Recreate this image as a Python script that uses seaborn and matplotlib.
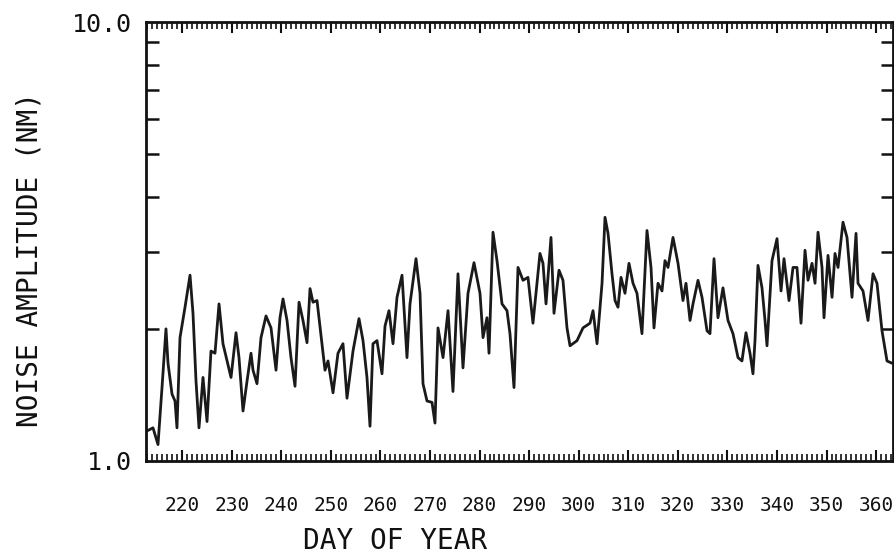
import matplotlib
matplotlib.use("Agg")
import matplotlib.pyplot as plt
from matplotlib.ticker import FixedLocator, MultipleLocator, NullFormatter, FixedFormatter
import seaborn as sns
import pandas as pd

days = [212.84, 214.11, 215.12, 215.93, 216.73, 217.14, 217.95, 218.55, 218.95, 219.56,
        220.57, 221.58, 222.18, 222.79, 223.39, 224.20, 225.01, 225.81, 226.62, 227.43,
        228.23, 229.85, 230.86, 231.46, 232.27, 233.08, 233.88, 234.29, 235.09, 235.90,
        236.91, 237.92, 238.93, 239.73, 240.34, 241.15, 241.95, 242.76, 243.57, 244.37,
        245.18, 245.79, 246.39, 247.20, 248.21, 248.81, 249.42, 250.43, 251.43, 252.44,
        253.25, 254.46, 255.67, 256.48, 257.28, 257.89, 258.49, 259.30, 260.31, 260.92,
        261.72, 262.53, 263.34, 264.35, 265.35, 265.96, 267.17, 267.98, 268.58, 269.39,
        270.40, 271.00, 271.61, 272.62, 273.63, 274.63, 275.64, 276.65, 277.66, 278.87,
        280.08, 280.69, 281.49, 281.90, 282.70, 283.51, 284.52, 285.53, 286.13, 286.94,
        287.75, 288.76, 289.76, 290.77, 292.18, 292.79, 293.40, 294.40, 295.01, 296.02,
        296.82, 297.63, 298.24, 299.65, 300.86, 302.27, 302.88, 303.69, 304.70, 305.30,
        305.91, 306.71, 307.32, 307.92, 308.53, 309.33, 310.14, 310.95, 311.75, 312.76,
        313.77, 314.58, 315.18, 315.99, 316.80, 317.40, 318.01, 319.02, 320.03, 321.03,
        321.64, 322.45, 323.05, 324.06, 324.87, 325.88, 326.48, 327.29, 328.09, 329.10,
        330.11, 331.12, 332.13, 332.93, 333.74, 334.55, 335.15, 335.56, 336.16, 336.97,
        337.58, 337.98, 338.99, 340.00, 340.81, 341.41, 342.42, 343.23, 344.03, 344.84,
        345.65, 346.25, 347.06, 347.67, 348.27, 349.08, 349.48, 350.29, 351.10, 351.70,
        352.31, 353.31, 354.12, 355.13, 355.94, 356.34, 357.35, 358.36, 359.37, 360.17,
        361.18, 362.19, 363.20]

amplitude = [1.17, 1.19, 1.09, 1.47, 2.00, 1.67, 1.42, 1.37, 1.19, 1.91,
             2.24, 2.65, 2.17, 1.52, 1.19, 1.55, 1.23, 1.78, 1.76, 2.28,
             1.85, 1.55, 1.96, 1.72, 1.30, 1.52, 1.76, 1.61, 1.50, 1.91,
             2.14, 2.01, 1.61, 2.12, 2.34, 2.09, 1.72, 1.48, 2.30, 2.09,
             1.86, 2.47, 2.30, 2.32, 1.85, 1.61, 1.69, 1.43, 1.76, 1.85,
             1.39, 1.78, 2.11, 1.88, 1.55, 1.20, 1.85, 1.88, 1.58, 2.03,
             2.20, 1.85, 2.36, 2.65, 1.72, 2.28, 2.89, 2.41, 1.50, 1.37,
             1.36, 1.22, 2.01, 1.72, 2.20, 1.44, 2.67, 1.63, 2.41, 2.83,
             2.41, 1.91, 2.12, 1.76, 3.32, 2.86, 2.28, 2.20, 1.95, 1.47,
             2.76, 2.58, 2.62, 2.06, 2.97, 2.82, 2.28, 3.23, 2.17, 2.72,
             2.58, 2.01, 1.83, 1.88, 2.01, 2.06, 2.20, 1.85, 2.54, 3.59,
             3.30, 2.67, 2.32, 2.24, 2.62, 2.41, 2.82, 2.54, 2.41, 1.95,
             3.35, 2.76, 2.01, 2.54, 2.44, 2.86, 2.76, 3.23, 2.82, 2.32,
             2.54, 2.09, 2.28, 2.58, 2.36, 1.98, 1.95, 2.89, 2.12, 2.48,
             2.09, 1.95, 1.72, 1.69, 1.96, 1.76, 1.58, 1.88, 2.79, 2.48,
             2.09, 1.83, 2.86, 3.21, 2.44, 2.89, 2.32, 2.76, 2.76, 2.06,
             3.02, 2.58, 2.82, 2.54, 3.32, 2.76, 2.12, 2.94, 2.36, 2.97,
             2.76, 3.50, 3.23, 2.36, 3.30, 2.54, 2.44, 2.09, 2.67, 2.54,
             1.98, 1.69, 1.67]

x_ticks = [220, 230, 240, 250, 260, 270, 280, 290, 300, 310, 320, 330, 340, 350, 360]
x_tick_labels = [str(t) for t in x_ticks]
y_ticks = [1.0, 10.0]
y_tick_labels = ["1.0", "10.0"]
y_minor = [2, 3, 4, 5, 6, 7, 8, 9]

sns.set_style("ticks")
plt.rcParams["font.family"] = ["DejaVu Sans Mono", "DejaVu Sans"]

df = pd.DataFrame({"day": days, "amp": amplitude})

fig = plt.figure(figsize=(8.95, 5.6), dpi=100)
ax = fig.add_axes([146 / 895, 1 - 461 / 560, (893 - 146) / 895, (461 - 22) / 560])

sns.lineplot(data=df, x="day", y="amp", ax=ax, color="#1a1a1a", linewidth=2.0)

ax.set_yscale("log")
ax.set_ylim(1.0, 10.0)
ax.set_xlim(212.7, 363.4)

ink = "#111111"
for s in ax.spines.values():
    s.set_color(ink)
    s.set_linewidth(2.0)

ax.xaxis.set_major_locator(FixedLocator(x_ticks))
ax.xaxis.set_major_formatter(FixedFormatter(x_tick_labels))
ax.xaxis.set_minor_locator(MultipleLocator(1))
ax.yaxis.set_major_locator(FixedLocator(y_ticks))
ax.yaxis.set_major_formatter(FixedFormatter(y_tick_labels))
ax.yaxis.set_minor_locator(FixedLocator(y_minor))
ax.yaxis.set_minor_formatter(NullFormatter())

ax.tick_params(axis="x", which="major", direction="in", length=8, width=1.5,
               top=True, bottom=True, color=ink, labelsize=14, pad=25, labelcolor=ink)
ax.tick_params(axis="x", which="minor", direction="in", length=5, width=1.2,
               top=True, bottom=True, color=ink)
ax.tick_params(axis="y", which="major", direction="in", length=0, width=1.5,
               left=True, right=True, color=ink, labelsize=18, pad=10, labelcolor=ink)
ax.tick_params(axis="y", which="minor", direction="in", length=9, width=1.8,
               left=True, right=True, color=ink)

ax.set_xlabel("DAY OF YEAR", fontsize=20, color=ink)
ax.set_ylabel("NOISE AMPLITUDE (NM)", fontsize=20, color=ink)
ax.xaxis.set_label_coords(0.333, -0.15)
ax.yaxis.set_label_coords(-0.137, 0.458)
ax.grid(False)

fig.savefig("out.png", dpi=100, facecolor="white")
